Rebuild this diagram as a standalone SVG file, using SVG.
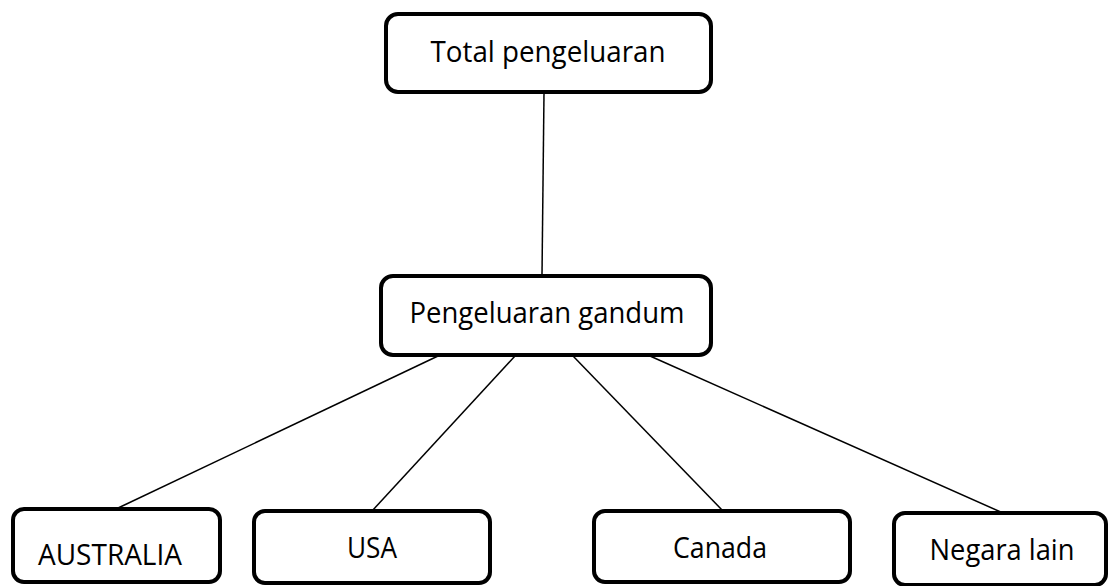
<svg xmlns="http://www.w3.org/2000/svg" width="1108" height="586" viewBox="0 0 1108 586">
<style>
.box{fill:#fff;stroke:#000;stroke-width:4}
.lbl{font-family:"Open Sans","Liberation Sans",sans-serif;font-size:29px;fill:#000;text-anchor:middle}
.con{stroke:#000;stroke-width:1.5;fill:none}
</style>
<rect width="1108" height="586" fill="#fff"/>
<g id="connectors">
<line class="con" x1="544" y1="93" x2="542" y2="275"/>
<line class="con" x1="438" y1="356" x2="116" y2="509"/>
<line class="con" x1="515" y1="356" x2="372" y2="511"/>
<line class="con" x1="573" y1="356" x2="723" y2="511"/>
<line class="con" x1="650" y1="356" x2="1003" y2="513"/>
</g>
<g id="total">
<rect class="box" x="386" y="14" width="325" height="78" rx="12"/>
<text class="lbl" x="548" y="62" textLength="235" lengthAdjust="spacingAndGlyphs">Total pengeluaran</text>
</g>
<g id="gandum">
<rect class="box" x="381" y="276" width="330" height="79" rx="12"/>
<text class="lbl" x="547" y="323" textLength="275" lengthAdjust="spacingAndGlyphs">Pengeluaran gandum</text>
</g>
<g id="australia">
<rect class="box" x="13" y="509" width="207" height="73" rx="11"/>
<text class="lbl" x="110" y="565" textLength="144" lengthAdjust="spacingAndGlyphs">AUSTRALIA</text>
</g>
<g id="usa">
<rect class="box" x="254" y="511" width="236" height="72" rx="11"/>
<text class="lbl" x="372" y="558" textLength="50" lengthAdjust="spacingAndGlyphs">USA</text>
</g>
<g id="canada">
<rect class="box" x="594" y="511" width="256" height="71" rx="11"/>
<text class="lbl" x="720" y="558" textLength="94" lengthAdjust="spacingAndGlyphs">Canada</text>
</g>
<g id="negara">
<rect class="box" x="894" y="513" width="212" height="72" rx="11"/>
<text class="lbl" x="1002" y="560" textLength="145" lengthAdjust="spacingAndGlyphs">Negara lain</text>
</g>
</svg>
